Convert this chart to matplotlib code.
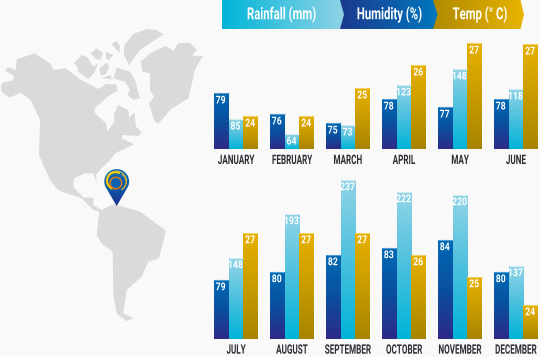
import matplotlib
matplotlib.use("Agg")
import matplotlib.pyplot as plt
import numpy as np
from matplotlib.colors import LinearSegmentedColormap
from matplotlib.patches import Polygon, Circle, Arc
from matplotlib.patheffects import AbstractPathEffect
from matplotlib.transforms import Affine2D

plt.rcParams['font.family'] = ['Roboto', 'DejaVu Sans']
plt.rcParams['font.weight'] = 'bold'

BG = '#f9f9f9'
LAND = '#d9dad9'

months = ['JANUARY', 'FEBRUARY', 'MARCH', 'APRIL', 'MAY', 'JUNE', 'JULY', 'AUGUST',
          'SEPTEMBER', 'OCTOBER', 'NOVEMBER', 'DECEMBER']
humidity = [79, 76, 75, 78, 77, 78, 79, 80, 82, 83, 84, 80]
rainfall = [85, 64, 73, 123, 148, 118, 148, 193, 237, 222, 220, 137]
temp = [24, 24, 25, 26, 27, 27, 27, 27, 27, 26, 25, 24]

# the bars are not to scale with their labels, so heights are read off the picture
humidity_h = [56, 35, 26, 50, 42, 50, 59, 67, 84, 91, 99, 67]
rainfall_h = [30, 15, 24, 64, 80, 60, 81, 125, 159, 147, 144, 73]
temp_h = [33, 33, 61, 84, 106, 105, 106, 106, 106, 84, 62, 34]

legend_names = ['Rainfall (mm)', 'Humidity (%)', 'Temp (° C)']

cmap_blue = LinearSegmentedColormap.from_list('b', ['#2d2a87', '#0a4f9f', '#0069b4'])
cmap_light = LinearSegmentedColormap.from_list('l', ['#00b4d8', '#4cc0de', '#90d4e6'])
cmap_gold = LinearSegmentedColormap.from_list('g', ['#a88400', '#c89c00', '#e7b000'])


class Narrow(AbstractPathEffect):
    # squeeze the glyphs sideways, none of the installed fonts is condensed enough
    def __init__(self, sx):
        super().__init__()
        self.sx = sx

    def draw_path(self, renderer, gc, tpath, affine, rgbFace=None):
        xs = tpath.vertices[:, 0]
        mid = (xs.min() + xs.max()) / 2
        squeeze = Affine2D().translate(-mid, 0).scale(self.sx, 1).translate(mid, 0)
        renderer.draw_path(gc, tpath, squeeze + affine, rgbFace)


fig = plt.figure(figsize=(5.4, 3.57), dpi=100, facecolor=BG)

# full figure axes in pixels for the map and legend
bg = fig.add_axes([0, 0, 1, 1])
bg.set_xlim(0, 540)
bg.set_ylim(357, 0)
bg.axis('off')


def z3(pts):
    return [(x / 3, y / 3 + 20) for x, y in pts]


def z4(pts):
    return [(x / 3 + 60, y / 3 + 160) for x, y in pts]


america = z3([(3, 195), (10, 187), (38, 182), (42, 168), (15, 152), (25, 142), (48, 150), (50, 118),
              (103, 100), (150, 130), (162, 150), (197, 145), (240, 178), (295, 207), (318, 192),
              (348, 193), (353, 212), (330, 225), (283, 265), (285, 280), (318, 310), (322, 335),
              (343, 305), (343, 280), (355, 255), (385, 270), (388, 293), (403, 277), (408, 320),
              (425, 338), (415, 348), (367, 345), (365, 355), (402, 373), (345, 400), (330, 420)]) + \
    z4([(150, 0), (120, 30), (108, 45), (110, 68), (100, 40), (75, 40), (42, 55), (40, 80), (70, 113),
        (100, 113), (100, 135), (125, 150), (160, 132), (240, 155), (318, 212), (297, 295), (265, 305),
        (245, 350), (200, 390), (190, 460), (220, 475), (200, 483), (170, 462), (160, 400), (158, 275),
        (125, 250), (110, 225), (118, 155), (100, 150), (65, 115), (5, 95), (-10, 85), (-30, 60)]) + \
    z3([(117, 405), (120, 300), (92, 240), (63, 218), (28, 233), (5, 215)])

islands = [
    [(373, 75), (400, 42), (440, 27), (470, 30), (490, 43), (420, 90), (387, 135), (372, 105)],
    [(422, 125), (450, 100), (497, 78), (520, 92), (535, 70), (570, 68), (590, 90), (575, 107), (608, 108),
     (585, 150), (565, 235), (512, 268), (475, 312), (462, 300), (447, 250), (462, 230), (450, 210),
     (450, 160), (428, 155)],
    [(340, 175), (350, 143), (390, 155), (405, 180), (420, 235), (400, 240), (382, 225), (390, 210), (375, 185)],
    [(335, 72), (350, 63), (360, 80), (358, 100)],
    [(272, 100), (290, 85), (310, 100), (300, 120), (285, 115)],
    [(317, 95), (340, 105), (325, 120), (318, 115)],
    [(298, 145), (320, 128), (328, 140), (318, 162), (302, 168)],
    [(222, 130), (245, 105), (262, 112), (280, 140), (295, 130), (285, 155), (265, 178), (235, 155), (232, 140)],
    [(305, 175), (330, 165), (337, 178)],
]
bg.add_patch(Polygon(america, closed=True, fc=LAND, ec='none'))
for isl in islands:
    bg.add_patch(Polygon(z3(isl), closed=True, fc=LAND, ec='none'))

# location pin
t = np.linspace(np.radians(-205), np.radians(25), 40)
pin_x, pin_y = 116.7, 181.5
pin = Polygon(list(zip(pin_x + 12.4 * np.cos(t), pin_y + 12.4 * np.sin(t))) + [(pin_x, 206)], closed=True,
              fc='none', ec='none')
bg.add_patch(pin)
im = bg.imshow(np.linspace(0, 1, 64)[:, None], extent=[100, 134, 206, 168], aspect='auto', zorder=3,
               cmap=LinearSegmentedColormap.from_list('p', ['#0a6cb5', '#0a5aa8', '#20308f']))
im.set_clip_path(pin)
bg.add_patch(Arc((115.5, 180.7), 17, 17, theta1=110, theta2=300, ec='#f5c800', lw=1.6, zorder=4))
bg.add_patch(Arc((116.5, 181), 20, 20, theta1=200, theta2=60, ec='#f0d040', lw=0.6, zorder=4))
bg.add_patch(Arc((117, 182), 18, 18, theta1=300, theta2=60, ec='#e8b020', lw=0.7, zorder=4))
bg.add_patch(Circle((115.8, 183), 5.8, fc='#0a62ae', ec='#ea7a14', lw=1.0, zorder=4))

# legend arrows, painted back to front
arrows = [
    (433, 520.5, 524, ['#b08a00', '#e8b400'], 2, 480),
    (340, 433, 437.5, ['#1c3a8e', '#0077bd'], 1, 389.5),
    (222, 340, 344, ['#00b5d8', '#8fd3e6'], 0, 281.5),
]
for x0, x1, tip, cols, idx, text_x in arrows:
    shape = Polygon([(x0, 0), (x1, 0), (tip, 14.5), (x1, 29), (x0, 29)], closed=True, fc='none', ec='none')
    bg.add_patch(shape)
    im = bg.imshow(np.linspace(0, 1, 128)[None, :], extent=[x0, tip, 29, 0], aspect='auto', zorder=2 - idx * 0.1,
                   cmap=LinearSegmentedColormap.from_list('a%d' % idx, cols))
    im.set_clip_path(shape)
    bg.text(text_x, 14.5, legend_names[idx], color='white', fontsize=12, ha='center', va='center', zorder=6,
            path_effects=[Narrow(0.68)])
bg.set_xlim(0, 540)
bg.set_ylim(357, 0)


def draw_row(ax, idx):
    width = 14.67
    for pos, i in enumerate(idx):
        start = pos * 56
        for k, (h, val, cm, col) in enumerate([(humidity_h[i], humidity[i], cmap_blue, '#4f9bd0'),
                                               (rainfall_h[i], rainfall[i], cmap_light, '#d4ebf2'),
                                               (temp_h[i], temp[i], cmap_gold, '#f0d264')]):
            left = start + k * width
            bar = ax.bar(left, h, width, align='edge', color='none', linewidth=0)[0]
            img = ax.imshow(np.linspace(1, 0, 64)[:, None], extent=[left, left + width, 0, h], aspect='auto',
                            cmap=cm, vmin=0, vmax=1, zorder=2)
            img.set_clip_path(bar)
            ax.plot([left, left + width], [h, h], color=col, lw=0.8, zorder=3, solid_capstyle='butt')
            ax.text(left + width / 2 - 0.5, h - 7.5, str(val), color='white', fontsize=7.8, ha='center',
                    va='center', zorder=4, path_effects=[Narrow(0.8)])
        ax.text(start + 22, -11.5, months[i], color='#2d2d35', fontsize=9.4, ha='center', va='center',
                clip_on=False, path_effects=[Narrow(0.62)])
    ax.set_xlim(0, 324)
    ax.axis('off')


top = fig.add_axes([214 / 540, 1 - 149 / 357, 324 / 540, 120 / 357])
draw_row(top, range(6))
top.set_ylim(0, 120)
low = fig.add_axes([214 / 540, 1 - 338.7 / 357, 324 / 540, 160 / 357])
draw_row(low, range(6, 12))
low.set_ylim(0, 160)

fig.savefig('out.png', dpi=100, facecolor=BG)
